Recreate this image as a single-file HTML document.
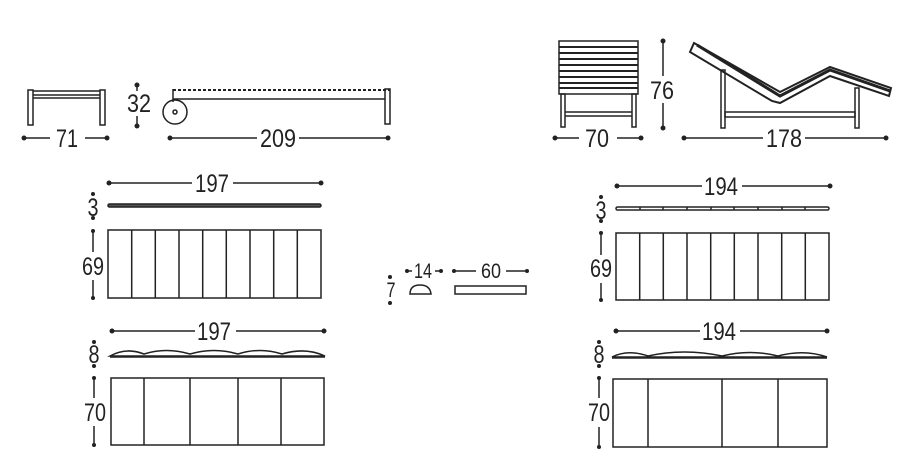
<!DOCTYPE html>
<html><head><meta charset="utf-8"><style>
html,body{margin:0;padding:0;background:#fff;}
svg{display:block;}
text{font-family:"Liberation Sans",sans-serif;font-size:25px;fill:#222;text-anchor:middle;}
</style></head><body>
<svg width="913" height="476" viewBox="0 0 913 476" xmlns="http://www.w3.org/2000/svg" stroke="#222" fill="none" stroke-width="1.5">
<!-- small bench -->
<rect x="28" y="90" width="5" height="35"/><rect x="100" y="90" width="5" height="35"/>
<line x1="33" y1="91" x2="100" y2="91"/><line x1="33" y1="95" x2="100" y2="95"/><line x1="33" y1="98" x2="100" y2="98"/>
<g fill="#222" stroke="none"><circle cx="24" cy="138" r="2.5"/><circle cx="107" cy="138" r="2.5"/></g>
<line x1="24" y1="138" x2="50" y2="138"/><line x1="85" y1="138" x2="107" y2="138"/>
<text x="67" y="147" stroke="none" textLength="22" lengthAdjust="spacingAndGlyphs">71</text>
<!-- 32 -->
<g fill="#222" stroke="none"><circle cx="137" cy="85" r="2.5"/><circle cx="137" cy="126" r="2.5"/></g>
<line x1="137" y1="85" x2="137" y2="91"/><line x1="137" y1="116" x2="137" y2="126"/>
<text x="139" y="112" stroke="none" textLength="24" lengthAdjust="spacingAndGlyphs">32</text>
<!-- lounger side -->
<line x1="173" y1="90" x2="390" y2="90" stroke-dasharray="3 2" stroke-width="2"/>
<line x1="173" y1="99" x2="385" y2="99"/>
<line x1="173" y1="89" x2="173" y2="102"/>
<rect x="385" y="89" width="5" height="35"/>
<circle cx="175" cy="112" r="12"/><circle cx="175" cy="112" r="2"/>
<g fill="#222" stroke="none"><circle cx="170" cy="138" r="2.5"/><circle cx="388" cy="138" r="2.5"/></g>
<line x1="170" y1="138" x2="257" y2="138"/><line x1="299" y1="138" x2="388" y2="138"/>
<text x="278" y="147" stroke="none" textLength="36" lengthAdjust="spacingAndGlyphs">209</text>
<!-- front view -->
<rect x="559" y="41" width="79" height="53"/>
<g stroke-width="2"><line x1="559" y1="47" x2="638" y2="47"/><line x1="559" y1="53" x2="638" y2="53"/><line x1="559" y1="59" x2="638" y2="59"/><line x1="559" y1="65" x2="638" y2="65"/><line x1="559" y1="71" x2="638" y2="71"/><line x1="559" y1="77" x2="638" y2="77"/><line x1="559" y1="83" x2="638" y2="83"/><line x1="559" y1="88" x2="638" y2="88"/></g>
<rect x="561" y="94" width="4" height="33"/><rect x="632" y="94" width="4" height="33"/>
<line x1="565" y1="112" x2="632" y2="112"/><line x1="565" y1="116" x2="632" y2="116"/>
<g fill="#222" stroke="none"><circle cx="555" cy="138" r="2.5"/><circle cx="641" cy="138" r="2.5"/></g>
<line x1="555" y1="138" x2="579" y2="138"/><line x1="617" y1="138" x2="641" y2="138"/>
<text x="597" y="147" stroke="none" textLength="24" lengthAdjust="spacingAndGlyphs">70</text>
<g fill="#222" stroke="none"><circle cx="663" cy="41" r="2.5"/><circle cx="663" cy="128" r="2.5"/></g>
<line x1="663" y1="41" x2="663" y2="76"/><line x1="663" y1="103" x2="663" y2="128"/>
<text x="662" y="99" stroke="none" textLength="24" lengthAdjust="spacingAndGlyphs">76</text>
<!-- chaise side -->
<path d="M694 43 L780 92 L830 67 L891 88 L889 96 L830 76 L780 103 L772 101 L690 52 Z" stroke-width="2"/>
<path d="M697 45 L780 96 L830 70 L890 91" stroke-width="3"/>
<rect x="721" y="70" width="4" height="58"/><rect x="855" y="88" width="4" height="40"/>
<rect x="725" y="112" width="130" height="5"/>
<g fill="#222" stroke="none"><circle cx="684" cy="138" r="2.5"/><circle cx="886" cy="138" r="2.5"/></g>
<line x1="684" y1="138" x2="763" y2="138"/><line x1="805" y1="138" x2="886" y2="138"/>
<text x="784" y="147" stroke="none" textLength="36" lengthAdjust="spacingAndGlyphs">178</text>
<!-- left middle -->
<g fill="#222" stroke="none"><circle cx="109" cy="183" r="2.5"/><circle cx="321" cy="183" r="2.5"/><circle cx="93" cy="194" r="2"/><circle cx="93" cy="218" r="2"/><circle cx="93" cy="231" r="2"/><circle cx="93" cy="298" r="2"/></g>
<line x1="109" y1="183" x2="192" y2="183"/><line x1="233" y1="183" x2="321" y2="183"/>
<text x="212" y="192" stroke="none" textLength="34" lengthAdjust="spacingAndGlyphs">197</text>
<rect x="108" y="204" width="213" height="3" fill="#555" rx="1.5"/>
<text x="93" y="216" stroke="none" textLength="11" lengthAdjust="spacingAndGlyphs">3</text>
<rect x="108" y="230" width="213" height="68"/>
<path d="M131.7 230V298M155.3 230V298M179 230V298M202.7 230V298M226.3 230V298M250 230V298M273.7 230V298M297.3 230V298"/>
<line x1="93" y1="231" x2="93" y2="252"/><line x1="93" y1="280" x2="93" y2="298"/>
<text x="93" y="275" stroke="none" textLength="22" lengthAdjust="spacingAndGlyphs">69</text>
<g fill="#222" stroke="none"><circle cx="112" cy="331" r="2.5"/><circle cx="324" cy="331" r="2.5"/><circle cx="94" cy="342" r="2"/><circle cx="94" cy="366" r="2"/><circle cx="94" cy="378" r="2"/><circle cx="94" cy="445" r="2"/></g>
<line x1="112" y1="331" x2="195" y2="331"/><line x1="236" y1="331" x2="324" y2="331"/>
<text x="214" y="340" stroke="none" textLength="34" lengthAdjust="spacingAndGlyphs">197</text>
<path d="M110 356 Q126 347 144 354 Q166 347 190 354 Q214 347 238 354 Q260 347 282 354 Q305 347 325 356 Z"/>
<line x1="110" y1="357" x2="325" y2="357"/>
<text x="94" y="363" stroke="none" textLength="11" lengthAdjust="spacingAndGlyphs">8</text>
<rect x="111" y="378" width="213" height="67"/>
<path d="M144 378V445M190 378V445M238 378V445M281 378V445"/>
<line x1="94" y1="378" x2="94" y2="398"/><line x1="94" y1="426" x2="94" y2="445"/>
<text x="95" y="421" stroke="none" textLength="22" lengthAdjust="spacingAndGlyphs">70</text>
<!-- middle pieces -->
<g fill="#222" stroke="none"><circle cx="390" cy="277" r="2"/><circle cx="390" cy="303" r="2"/><circle cx="407" cy="271" r="2"/><circle cx="441" cy="271" r="2"/><circle cx="454" cy="271" r="2"/><circle cx="527" cy="271" r="2"/></g>
<text x="391" y="297" stroke="none" style="font-size:21px" textLength="9" lengthAdjust="spacingAndGlyphs">7</text>
<line x1="407" y1="271" x2="412" y2="271"/><line x1="435" y1="271" x2="441" y2="271"/>
<text x="423" y="278" stroke="none" style="font-size:21px" textLength="18" lengthAdjust="spacingAndGlyphs">14</text>
<line x1="454" y1="271" x2="476" y2="271"/><line x1="506" y1="271" x2="527" y2="271"/>
<text x="491" y="278" stroke="none" style="font-size:21px" textLength="20" lengthAdjust="spacingAndGlyphs">60</text>
<path d="M410 294 Q410 285 420 285 Q430 285 431 294 Z"/>
<rect x="455" y="286" width="71" height="8"/>
<!-- right middle -->
<g fill="#222" stroke="none"><circle cx="617" cy="186" r="2.5"/><circle cx="830" cy="186" r="2.5"/><circle cx="601" cy="197" r="2"/><circle cx="601" cy="221" r="2"/><circle cx="601" cy="233" r="2"/><circle cx="601" cy="300" r="2"/></g>
<line x1="617" y1="186" x2="702" y2="186"/><line x1="742" y1="186" x2="830" y2="186"/>
<text x="721" y="195" stroke="none" textLength="34" lengthAdjust="spacingAndGlyphs">194</text>
<rect x="616" y="207" width="213" height="3" rx="1.5"/>
<path d="M640 207V210M663 207V210M687 207V210M711 207V210M734 207V210M758 207V210M782 207V210M805 207V210"/>
<text x="601" y="219" stroke="none" textLength="11" lengthAdjust="spacingAndGlyphs">3</text>
<rect x="616" y="233" width="213" height="67"/>
<path d="M639.7 233V300M663.3 233V300M687 233V300M710.7 233V300M734.3 233V300M758 233V300M781.7 233V300M805.3 233V300"/>
<line x1="601" y1="233" x2="601" y2="255"/><line x1="601" y1="283" x2="601" y2="300"/>
<text x="601" y="277" stroke="none" textLength="22" lengthAdjust="spacingAndGlyphs">69</text>
<g fill="#222" stroke="none"><circle cx="616" cy="331" r="2.5"/><circle cx="827" cy="331" r="2.5"/><circle cx="599" cy="342" r="2"/><circle cx="599" cy="366" r="2"/><circle cx="599" cy="378" r="2"/><circle cx="599" cy="447" r="2"/></g>
<line x1="616" y1="331" x2="700" y2="331"/><line x1="740" y1="331" x2="827" y2="331"/>
<text x="719" y="340" stroke="none" textLength="34" lengthAdjust="spacingAndGlyphs">194</text>
<path d="M612 357 Q628 349 648 356 Q684 348 722 356 Q750 349 778 356 Q804 349 827 357 Z"/>
<line x1="612" y1="358" x2="827" y2="358"/>
<text x="599" y="363" stroke="none" textLength="11" lengthAdjust="spacingAndGlyphs">8</text>
<rect x="613" y="379" width="214" height="68"/>
<path d="M648 379V447M722 379V447M778 379V447"/>
<line x1="599" y1="379" x2="599" y2="398"/><line x1="599" y1="427" x2="599" y2="447"/>
<text x="599" y="421" stroke="none" textLength="22" lengthAdjust="spacingAndGlyphs">70</text>
</svg>
</body></html>
